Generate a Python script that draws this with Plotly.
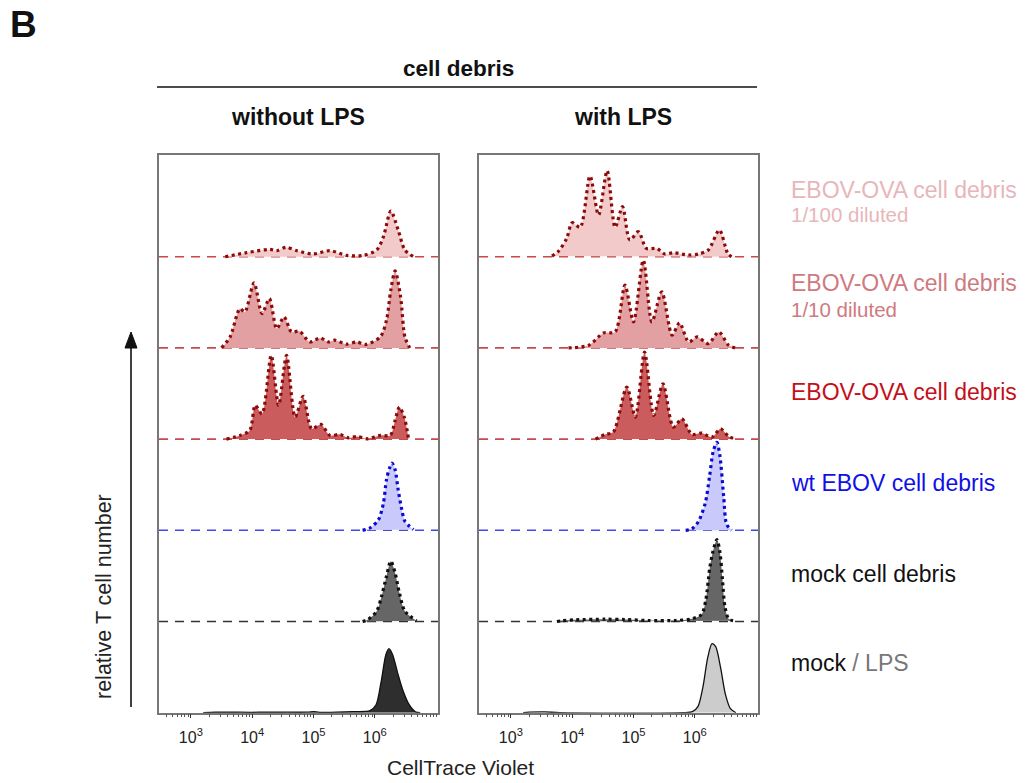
import numpy as np
import plotly.graph_objects as go

W, H = 1026, 783
FONT = "Liberation Sans, Arial, Helvetica, sans-serif"

# ---------------- data (log10 CellTrace Violet intensity, relative T cell number) -------------
# rows, top -> bottom
row_labels = ["EBOV-OVA cell debris", "EBOV-OVA cell debris", "EBOV-OVA cell debris",
              "wt EBOV cell debris", "mock cell debris", "mock"]
row_sublabels = ["1/100 diluted", "1/10 diluted", "", "", "", ""]

# ---- without LPS
woL_1_x = [3.56, 3.91, 4.29, 4.40, 4.55, 4.73, 4.99, 5.27, 5.54, 5.81, 6.03, 6.14, 6.26, 6.38, 6.49, 6.63]
woL_1_y = [0, 4, 7.3, 6, 9.3, 6, 2.7, 6, 1.3, 1.3, 6.7, 20, 45.7, 26.7, 6.7, 0]

woL_2_x = [3.50, 3.64, 3.80, 3.88, 4.03, 4.16, 4.28, 4.40, 4.52, 4.64, 4.77, 4.94, 5.11, 5.24, 5.35,
           5.54, 5.71, 5.84, 6.09, 6.19, 6.26, 6.33, 6.42, 6.49, 6.57]
woL_2_y = [0, 11, 39.3, 36, 65, 34.3, 49.3, 19.3, 31, 16, 16.7, 6, 10, 6, 7.7,
           3.7, 6, 3.3, 11, 27.7, 57.7, 77, 51, 11, 0]

woL_3_x = [3.58, 3.80, 3.96, 4.05, 4.16, 4.31, 4.43, 4.56, 4.70, 4.83, 4.97, 5.12, 5.27, 5.43, 5.57,
           5.71, 5.87, 6.09, 6.25, 6.33, 6.40, 6.48, 6.55]
woL_3_y = [0, 3.7, 8.7, 33.7, 25.3, 83.7, 33.7, 83.7, 22, 42.7, 10.3, 14.7, 3.7, 4.7, 1.3,
           2.7, 0.3, 3.7, 3.7, 18.7, 32, 22, 0]

woL_4_x = [5.80, 5.92, 6.06, 6.14, 6.19, 6.24, 6.28, 6.33, 6.38, 6.44, 6.49, 6.63]
woL_4_y = [0, 2.3, 10.7, 27.3, 50.7, 62.3, 67.3, 60.7, 40.7, 20.7, 9, 0.7]

woL_5_x = [5.80, 5.89, 6.03, 6.11, 6.19, 6.26, 6.33, 6.40, 6.49, 6.68]
woL_5_y = [0, 2, 10.3, 25.3, 45.3, 60.3, 48.7, 28.7, 10.3, 0.7]

woL_6_x = [3.20, 3.40, 4.00, 4.20, 4.90, 5.00, 5.10, 5.64, 5.92, 6.02, 6.10, 6.18, 6.23, 6.29, 6.38, 6.46, 6.56, 6.66, 6.74]
woL_6_y = [0, 0.6, 0.4, 0.6, 0.5, 1.0, 0.4, 1, 2, 8, 30, 58, 64, 58, 38, 22, 8, 1, 0]

# ---- with LPS
wL_1_x = [3.67, 3.77, 3.91, 4.00, 4.13, 4.29, 4.43, 4.57, 4.70, 4.82, 4.94, 5.08, 5.21, 5.38, 5.51,
          5.65, 5.89, 6.06, 6.22, 6.40, 6.54, 6.60]
wL_1_y = [0.7, 5, 18.3, 34, 29.3, 80.7, 41.7, 86, 29.3, 50, 16.7, 25, 8.3, 8.3, 2.7,
          4, 1.7, 2.7, 6.7, 26.7, 2.7, 0]

wL_2_x = [3.94, 4.27, 4.51, 4.70, 4.86, 5.00, 5.16, 5.30, 5.46, 5.63, 5.75, 5.90, 6.04, 6.22, 6.39, 6.55, 6.66]
wL_2_y = [0, 2.7, 15, 16, 62.7, 26, 87.7, 26, 56, 12.7, 25, 6, 11, 4.3, 16, 2.7, 0]

wL_3_x = [4.38, 4.54, 4.67, 4.89, 5.03, 5.18, 5.33, 5.48, 5.65, 5.79, 5.95, 6.11, 6.28, 6.42, 6.55, 6.66]
wL_3_y = [0, 4.7, 7, 52, 22, 87, 23.7, 55.3, 12, 20.3, 4.7, 6, 2, 10.3, 2.7, 0]

wL_4_x = [5.85, 5.95, 6.06, 6.17, 6.24, 6.30, 6.36, 6.41, 6.47, 6.52, 6.60]
wL_4_y = [0, 1.3, 9, 27.3, 54, 79, 88, 74, 34, 5.7, 0]

wL_5_x = [3.75, 3.83, 4.05, 4.54, 4.86, 5.24, 5.68, 5.95, 6.11, 6.18, 6.24, 6.29, 6.36, 6.41, 6.45, 6.49, 6.55, 6.63]
wL_5_y = [0, 0.7, 1.7, 2.3, 2, 1, 1, 2.7, 7, 22, 52, 68.7, 82, 68.7, 42, 15.3, 2.7, 0.7]

wL_6_x = [3.20, 3.30, 3.55, 3.80, 5.80, 5.96, 6.05, 6.13, 6.21, 6.28, 6.34, 6.42, 6.50, 6.58, 6.67]
wL_6_y = [0, 0.5, 0.8, 0, 0, 1, 6, 25, 55, 69, 66, 45, 18, 4, 0]

# ticks
tick_values = [1e3, 1e4, 1e5, 1e6]
tick_text = ["10<sup>3</sup>", "10<sup>4</sup>", "10<sup>5</sup>", "10<sup>6</sup>"]
x_log_range = [2.48, 7.03]
ROW_STEP = 91.2          # relative count offset between stacked histograms
Y_TOP = 557.7            # top of the panel in the same units

# ---------------- styles ----------------
fill_colors = ["#f2caca", "#e2a0a2", "#cb5c5e", "#c9c9fb", "#666666", None]
dot_colors = ["#8c0a0a", "#8c0a0a", "#8c0a0a", "#0a0ad2", "#111111", None]
dash_colors = ["#c94a4a", "#c94a4a", "#c94a4a", "#4646e0", "#333333", None]
label_colors = ["#e8b6ba", "#cf7a80", "#c3101a", "#1010e6", "#111111", "#111111"]
bottom_fill = {"left": "#2e2e2e", "right": "#cccccc"}

panels = {
    "left": ([woL_1_x, woL_2_x, woL_3_x, woL_4_x, woL_5_x, woL_6_x],
             [woL_1_y, woL_2_y, woL_3_y, woL_4_y, woL_5_y, woL_6_y], "x", "y"),
    "right": ([wL_1_x, wL_2_x, wL_3_x, wL_4_x, wL_5_x, wL_6_x],
              [wL_1_y, wL_2_y, wL_3_y, wL_4_y, wL_5_y, wL_6_y], "x2", "y2"),
}

fig = go.Figure()
full_x = [10 ** x_log_range[0], 10 ** x_log_range[1]]

for pname, (xs, ys, xa, ya) in panels.items():
    for i in range(6):
        base = (5 - i) * ROW_STEP
        xv = np.power(10.0, np.array(xs[i]))
        yv = np.array(ys[i]) + base
        if i < 5:
            # dashed control/baseline line
            fig.add_trace(go.Scatter(x=full_x, y=[base, base], mode="lines", xaxis=xa, yaxis=ya,
                                     line=dict(color=dash_colors[i], width=1.6, dash="9px,7px"),
                                     hoverinfo="skip", showlegend=False))
            fig.add_trace(go.Scatter(x=xv, y=yv, mode="lines", xaxis=xa, yaxis=ya,
                                     fill="toself", fillcolor=fill_colors[i],
                                     line=dict(color=dot_colors[i], width=3.2, dash="3px,3.5px",
                                               shape="spline", smoothing=0.8),
                                     hoverinfo="skip", showlegend=False))
        else:
            fig.add_trace(go.Scatter(x=xv, y=yv, mode="lines", xaxis=xa, yaxis=ya,
                                     fill="toself", fillcolor=bottom_fill[pname],
                                     line=dict(color="#111111", width=1.3, shape="spline", smoothing=0.8),
                                     hoverinfo="skip", showlegend=False))


def px2x(px):
    return px / W


def py2y(py):
    return 1 - py / H


xaxis_style = dict(type="log", range=x_log_range, tickvals=tick_values, ticktext=tick_text,
                   showline=True, mirror=True, linecolor="#777777", linewidth=1.5,
                   ticks="outside", ticklen=4, tickcolor="#333333", tickwidth=1.2,
                   minor=dict(ticks="outside", ticklen=2.5, tickcolor="#555555", dtick="D1", showgrid=False),
                   showgrid=False, zeroline=False, ticklabelstandoff=5,
                   tickfont=dict(family=FONT, size=16, color="#222222"))
yaxis_style = dict(range=[0, Y_TOP], showline=True, mirror=True, linecolor="#777777", linewidth=1.5,
                   showticklabels=False, ticks="", showgrid=False, zeroline=False)

y_dom = [py2y(712.7), py2y(155)]
fig.update_layout(
    width=W, height=H, margin=dict(l=0, r=0, t=0, b=0),
    paper_bgcolor="white", plot_bgcolor="white",
    xaxis=dict(domain=[px2x(159), px2x(438)], anchor="y", **xaxis_style),
    xaxis2=dict(domain=[px2x(479), px2x(758)], anchor="y2", **xaxis_style),
    yaxis=dict(domain=y_dom, anchor="x", **yaxis_style),
    yaxis2=dict(domain=y_dom, anchor="x2", **yaxis_style),
)

ann = []
# panel letter
ann.append(dict(x=px2x(8), y=py2y(25), text="<b>B</b>", xanchor="left", yanchor="middle",
                font=dict(family=FONT, size=37, color="#111111")))
ann.append(dict(x=px2x(458), y=py2y(68), text="<b>cell debris</b>", xanchor="center", yanchor="middle",
                font=dict(family=FONT, size=22.5, color="#111111")))
ann.append(dict(x=px2x(298), y=py2y(117), text="<b>without LPS</b>", xanchor="center", yanchor="middle",
                font=dict(family=FONT, size=23, color="#111111")))
ann.append(dict(x=px2x(623), y=py2y(117), text="<b>with LPS</b>", xanchor="center", yanchor="middle",
                font=dict(family=FONT, size=23, color="#111111")))
ann.append(dict(x=px2x(460), y=py2y(767), text="CellTrace Violet", xanchor="center", yanchor="middle",
                font=dict(family=FONT, size=21, color="#222222")))
ann.append(dict(x=px2x(104), y=py2y(597), text="relative T cell number", textangle=-90,
                xanchor="center", yanchor="middle", font=dict(family=FONT, size=21.5, color="#222222")))

label_y1 = [190, 283, 392, 483, 574, 663]
label_y2 = [215, 309, None, None, None, None]
for i in range(6):
    txt = row_labels[i]
    if i == 5:
        txt = "mock <span style='color:#777777'>/ LPS</span>"
    ann.append(dict(x=px2x(789), y=py2y(label_y1[i]), text=txt, xanchor="left", yanchor="middle",
                    font=dict(family=FONT, size=23, color=label_colors[i])))
    if row_sublabels[i]:
        ann.append(dict(x=px2x(789), y=py2y(label_y2[i]), text=row_sublabels[i], xanchor="left",
                        yanchor="middle", font=dict(family=FONT, size=20.5, color=label_colors[i])))

for a in ann:
    a.update(xref="paper", yref="paper", showarrow=False)
fig.update_layout(annotations=ann)

shapes = [
    dict(type="line", xref="paper", yref="paper", x0=px2x(157), x1=px2x(757), y0=py2y(87), y1=py2y(87),
         line=dict(color="#111111", width=1.6)),
    dict(type="line", xref="paper", yref="paper", x0=px2x(131), x1=px2x(131), y0=py2y(707), y1=py2y(345),
         line=dict(color="#111111", width=1.6)),
    dict(type="path", xref="paper", yref="paper",
         path="M {} {} L {} {} L {} {} Z".format(px2x(131), py2y(332), px2x(125), py2y(348),
                                                 px2x(137), py2y(348)),
         fillcolor="#111111", line=dict(color="#111111", width=1)),
]
fig.update_layout(shapes=shapes)

fig.write_html("out.html", config={"displayModeBar": False},
               post_script="document.body.style.margin='0px';")
